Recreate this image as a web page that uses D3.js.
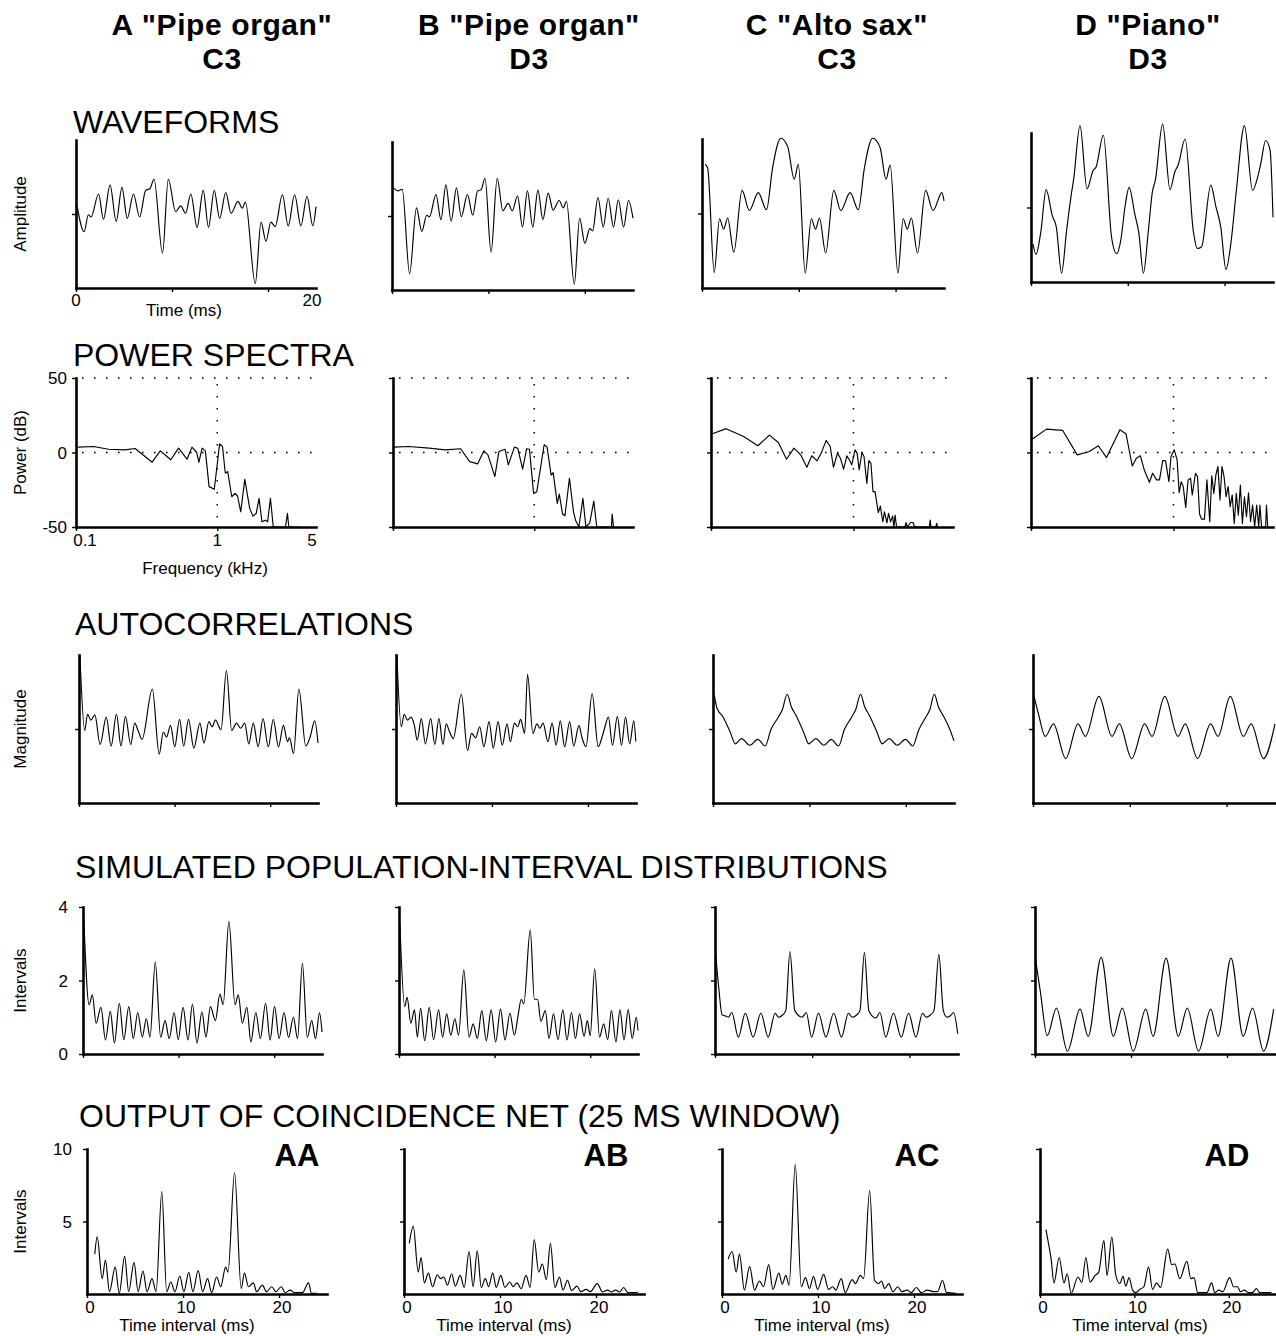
<!DOCTYPE html>
<html>
<head>
<meta charset="utf-8">
<script src="https://cdn.jsdelivr.net/npm/d3@7"></script>
<style>
  body { margin: 0; background: #fff; }
  svg { display: block; font-family: "Liberation Sans", Arial, Helvetica, sans-serif; }
</style>
</head>
<body>
<svg id="chart" width="1276" height="1336"></svg>
<script>
// ---------- labels ----------
const columnTitles = ['A "Pipe organ"', 'B "Pipe organ"', 'C "Alto sax"', 'D "Piano"'];
const columnNotes = ["C3", "D3", "C3", "D3"];
const sectionTitles = ["WAVEFORMS", "POWER SPECTRA", "AUTOCORRELATIONS",
  "SIMULATED POPULATION-INTERVAL DISTRIBUTIONS", "OUTPUT OF COINCIDENCE NET (25 MS WINDOW)"];
const pairLabels = ["AA", "AB", "AC", "AD"];

// ---------- tick values ----------
const waveXTicks = [0, 8, 16];
const waveXLabels = [0, 20];
const specXTicks = [0.1, 1];
const specXLabels = [0.1, 1, 5];
const specYTicks = [-50, 0, 50];
const lagTicks = [0, 10, 20];
const pidYTicks = [0, 2, 4];
const coinYTicks = [5, 10];

// ---------- waveforms: [time ms, normalised amplitude] ----------
const waveA = [[0.1,0.10],[0.68,-0.24],[1.03,-0.01],[1.26,-0.04],[1.88,0.27],[2.29,-0.07],[2.84,0.39],[3.35,-0.10],[3.83,0.36],[4.27,-0.06],[4.79,0.27],[5.30,-0.04],[5.81,0.32],[6.15,0.34],[6.50,0.47],[7.21,-0.53],[7.69,0.47],[8.31,0.03],[8.72,0.11],[9.13,0.01],[9.57,0.27],[10.09,-0.18],[10.60,0.32],[11.04,-0.18],[11.52,0.32],[11.97,-0.06],[12.48,0.29],[12.92,0.01],[13.50,0.17],[13.85,0.08],[14.12,0.16],[14.94,-0.94],[15.42,-0.11],[15.83,-0.37],[16.24,-0.11],[16.6,-0.17],[17.20,0.26],[17.68,-0.16],[18.22,0.26],[18.74,-0.16],[19.25,0.24],[19.73,-0.16],[20.0,0.10]];
const waveB = [[0.10,0.38],[0.51,0.34],[0.85,0.36],[1.46,-0.78],[2.03,0.11],[2.47,-0.21],[2.88,0.01],[3.11,-0.01],[3.65,0.29],[4.06,-0.05],[4.47,0.42],[4.91,-0.07],[5.35,0.38],[5.75,-0.01],[6.26,0.29],[6.70,0.01],[7.11,0.34],[7.38,0.35],[7.72,0.51],[8.22,-0.49],[8.73,0.51],[9.20,0.07],[9.64,0.17],[9.98,0.07],[10.42,0.27],[10.83,-0.15],[11.24,0.34],[11.68,-0.15],[12.11,0.35],[12.52,-0.05],[12.96,0.31],[13.37,0.08],[13.87,0.21],[14.21,0.11],[14.48,0.20],[15.13,-0.92],[15.57,-0.03],[16.01,-0.37],[16.41,-0.17],[16.65,-0.20],[17.09,0.25],[17.53,-0.15],[17.94,0.24],[18.38,-0.15],[18.78,0.22],[19.22,-0.15],[19.63,0.21],[20.0,-0.03]];
const waveC = [[0.27,0.66],[0.47,0.61],[1.01,-0.79],[1.45,-0.07],[1.79,-0.21],[2.12,-0.06],[2.63,-0.52],[3.31,0.31],[3.91,0.04],[4.65,0.28],[5.33,0.05],[5.83,0.61],[6.51,1.01],[7.08,0.90],[7.62,0.46],[7.96,0.66],[8.53,-0.80],[9.04,-0.07],[9.38,-0.21],[9.71,-0.06],[10.22,-0.53],[10.89,0.31],[11.47,0.04],[12.24,0.28],[12.92,0.05],[13.42,0.61],[14.10,1.01],[14.71,0.89],[15.21,0.46],[15.55,0.65],[16.19,-0.80],[16.63,-0.07],[16.96,-0.21],[17.30,-0.06],[17.81,-0.53],[18.48,0.31],[19.09,0.04],[19.83,0.28],[20.0,0.17]];
const waveD = [[0.17,-0.49],[0.41,-0.63],[0.81,-0.33],[1.25,0.24],[1.76,-0.11],[2.09,-0.26],[2.53,-0.88],[2.94,-0.31],[3.38,0.23],[3.51,0.36],[4.05,1.10],[4.63,0.25],[5.14,0.50],[5.37,0.54],[5.98,0.97],[6.66,-0.40],[7.09,-0.62],[7.43,-0.43],[7.77,0.01],[8.11,0.27],[8.58,-0.09],[8.92,-0.35],[9.29,-0.88],[9.70,-0.31],[10.03,0.21],[10.27,0.36],[10.88,1.12],[11.49,0.24],[11.89,0.48],[12.16,0.57],[12.74,0.92],[13.41,-0.31],[13.75,-0.55],[14.09,-0.53],[14.86,0.30],[15.27,0.02],[15.68,-0.26],[16.11,-0.83],[16.55,-0.44],[16.96,0.21],[17.64,1.10],[18.31,0.23],[18.72,0.40],[18.99,0.59],[19.39,0.90],[19.76,0.77],[20.0,-0.13]];

// ---------- power spectra: [frequency kHz, power dB] ----------
const specA = [[0.1034,3.6],[0.133,4.0],[0.170,2.2],[0.222,1.8],[0.262,2.7],[0.346,-6.5],[0.395,1.1],[0.469,-4.9],[0.532,2.9],[0.611,-4.5],[0.662,3.6],[0.716,0],[0.741,-6.7],[0.781,2.9],[0.824,1.1],[0.875,-22.9],[0.953,-24.7],[1.039,5.8],[1.089,4.0],[1.140,-13.9],[1.186,-12.8],[1.267,-29.7],[1.336,-27.4],[1.391,-29.2],[1.466,-39.8],[1.566,-18.0],[1.697,-37.5],[1.789,-42.7],[1.887,-40.9],[1.977,-30.8],[2.071,-46.5],[2.184,-45.4],[2.272,-46.5],[2.379,-30.8],[2.492,-50],[3.04,-50],[3.14,-40.9],[3.21,-50],[3.71,-50]];
const specB = [[0.102,3.6],[0.129,4.0],[0.180,2.9],[0.234,1.8],[0.301,2.5],[0.349,-6.1],[0.398,-7.6],[0.440,1.1],[0.470,-1.6],[0.526,-16.2],[0.562,0.7],[0.621,2.2],[0.655,-8.3],[0.724,3.6],[0.764,2.9],[0.827,-11.2],[0.883,2.5],[0.925,2.2],[0.989,-27.4],[1.042,-26.3],[1.175,5.2],[1.232,3.6],[1.316,-15.1],[1.361,-13.5],[1.455,-34.2],[1.504,-27.9],[1.586,-41.3],[1.649,-42.5],[1.774,-17.3],[1.896,-39.8],[1.960,-45.4],[2.07,-50],[2.21,-30.8],[2.32,-50],[2.47,-47.2],[2.64,-32.6],[2.77,-50],[3.52,-50],[3.56,-41.3],[3.64,-50]];
const specC = [[0.1013,12.4],[0.1277,16.0],[0.1694,10.8],[0.2134,4.5],[0.257,11.7],[0.297,6.7],[0.339,-4.5],[0.382,2.9],[0.427,-1.6],[0.471,-9.9],[0.510,-2.2],[0.556,-5.6],[0.594,-0.4],[0.643,8.1],[0.687,4.0],[0.724,-9.9],[0.773,-0.4],[0.810,-3.8],[0.853,-11.2],[0.899,-2.2],[0.942,-5.4],[0.973,-8.3],[1.026,1.8],[1.061,-0.4],[1.097,-11.7],[1.148,0],[1.186,-2.7],[1.242,-20.7],[1.284,-5.4],[1.327,-7.2],[1.372,-26.3],[1.418,-26.3],[1.495,-40.4],[1.545,-36.0],[1.607,-46.5],[1.651,-39.8],[1.718,-47.2],[1.763,-40.9],[1.823,-46.5],[1.884,-42.7],[1.923,-50],[1.96,-42],[2.01,-50],[2.30,-50],[2.34,-47],[2.39,-50],[2.52,-47],[2.62,-47],[2.69,-50],[3.41,-50],[3.46,-45.4],[3.50,-50],[3.79,-50],[3.84,-47.6],[3.89,-50]];
const specD = [[0.1006,8.5],[0.1285,15.7],[0.167,14.8],[0.211,-1.6],[0.257,0.7],[0.297,4.5],[0.339,-3.4],[0.421,15.3],[0.465,12.4],[0.514,-9.0],[0.549,-3.8],[0.586,-2.2],[0.626,-12.1],[0.678,-20.0],[0.714,-13.9],[0.762,-18.4],[0.798,-18.4],[0.841,-5.4],[0.881,-5.6],[0.929,-19.6],[0.961,-2.7],[1.013,1.8],[1.061,-4.9],[1.097,-27.0],[1.133,-19.6],[1.172,-22.9],[1.219,-36.9],[1.268,-18.4],[1.319,-17.3],[1.355,-28.5],[1.428,-13.9],[1.476,-16.2],[1.525,-41.3],[1.577,-44.7],[1.651,-44.7],[1.718,-18.4],[1.799,-46.5],[1.859,-15.7],[1.922,-27.4],[1.986,-15.1],[2.053,-9.4],[2.122,-31.9],[2.193,-9.4],[2.266,-16.2],[2.343,-29.7],[2.421,-22.9],[2.502,-36.4],[2.586,-28.5],[2.673,-47.6],[2.762,-27.4],[2.855,-42.0],[2.951,-21.8],[3.049,-47.6],[3.151,-29.7],[3.257,-43.1],[3.366,-27.0],[3.479,-46.5],[3.595,-35.3],[3.716,-50],[3.840,-35.3],[3.969,-50],[4.048,-35.3],[4.157,-50],[4.44,-50],[4.50,-35.3],[4.59,-50]];

// ---------- autocorrelations: [lag ms, normalised magnitude] ----------
const acfA = [[0.09,1.00],[0.60,-0.02],[0.89,0.20],[1.24,0.12],[1.66,0.19],[2.21,-0.21],[2.85,0.16],[3.36,-0.23],[3.92,0.20],[4.39,-0.23],[4.86,0.17],[5.41,-0.21],[5.83,0.08],[6.18,-0.02],[6.60,-0.14],[7.67,0.54],[8.39,-0.34],[8.82,-0.04],[9.16,-0.11],[9.58,0.05],[10.01,-0.24],[10.52,0.13],[10.95,-0.23],[11.46,0.13],[12.01,-0.26],[12.65,0.08],[13.07,-0.19],[13.59,0.10],[13.93,0.03],[14.27,0.12],[14.86,-0.01],[15.42,0.79],[15.97,-0.02],[16.48,0.08],[16.91,0.01],[17.33,0.08],[17.76,-0.20],[18.23,0.08],[18.74,-0.24],[19.25,0.14],[19.80,-0.24],[20.32,0.13],[20.87,-0.24],[21.38,0.05],[21.81,-0.17],[22.02,-0.12],[22.44,-0.33],[23.00,0.54],[23.72,-0.23],[24.15,-0.12],[24.66,0.11],[25.0,-0.19]];
const acfB = [[0.09,1.00],[0.55,0.03],[0.85,0.20],[1.19,0.12],[1.57,0.16],[1.91,0.05],[2.21,-0.15],[2.64,0.14],[3.06,-0.20],[3.62,0.14],[4.04,-0.21],[4.47,0.14],[4.89,-0.21],[5.23,0.07],[5.53,-0.02],[5.96,-0.13],[6.81,0.47],[7.45,-0.29],[7.87,-0.06],[8.30,-0.12],[8.72,0.03],[9.15,-0.24],[9.70,0.10],[10.13,-0.26],[10.64,0.10],[11.06,-0.22],[11.57,0.07],[11.91,-0.17],[12.34,0.08],[12.68,0.03],[12.98,0.13],[13.40,-0.06],[13.70,0.74],[14.26,-0.06],[14.68,0.07],[14.98,0.01],[15.32,0.08],[15.83,-0.17],[16.26,0.08],[16.68,-0.22],[17.11,0.11],[17.57,-0.24],[18.09,0.10],[18.51,-0.23],[19.06,0.05],[19.36,-0.11],[19.79,-0.24],[20.43,0.48],[21.06,-0.24],[21.62,-0.04],[22.13,0.16],[22.55,-0.22],[23.06,0.17],[23.49,-0.22],[23.91,0.16],[24.34,-0.20],[24.77,0.11],[24.98,-0.17]];
const acfC = [[0.13,0.46],[0.42,0.28],[1.06,0.16],[1.78,-0.04],[2.33,-0.20],[2.96,-0.13],[3.81,-0.22],[4.65,-0.14],[5.41,-0.23],[6.00,-0.01],[6.77,0.16],[7.19,0.26],[7.70,0.47],[8.12,0.30],[8.67,0.17],[9.39,-0.04],[9.94,-0.20],[10.66,-0.13],[11.50,-0.22],[12.26,-0.14],[13.02,-0.23],[13.62,-0.01],[14.38,0.16],[14.80,0.26],[15.31,0.47],[15.73,0.30],[16.28,0.17],[17.00,-0.04],[17.55,-0.20],[18.27,-0.13],[19.11,-0.22],[19.96,-0.14],[20.72,-0.23],[21.35,-0.01],[22.07,0.16],[22.49,0.26],[22.96,0.47],[23.38,0.30],[23.93,0.17],[24.52,0.01],[25.0,-0.16]];
const acfD = [[0.13,0.43],[0.55,0.21],[1.27,-0.10],[2.11,0.07],[3.38,-0.40],[4.65,0.07],[5.41,-0.10],[6.81,0.44],[8.16,-0.10],[8.92,0.07],[10.19,-0.40],[11.54,0.07],[12.30,-0.10],[13.62,0.44],[14.97,-0.10],[15.73,0.07],[17.00,-0.40],[18.35,0.07],[19.11,-0.10],[20.38,0.44],[21.73,-0.10],[22.54,0.07],[23.81,-0.40],[25.0,0.07]];

// ---------- population-interval distributions: [interval ms, intervals] ----------
const pidA = [[0.09,3.63],[0.64,1.34],[0.98,1.61],[1.37,0.84],[1.88,1.27],[2.35,0.38],[2.86,1.16],[3.29,0.30],[3.80,1.38],[4.27,0.39],[4.79,1.29],[5.26,0.42],[5.73,1.13],[6.20,0.46],[6.62,0.96],[7.01,0.46],[7.56,2.50],[8.12,0.46],[8.59,0.91],[9.02,0.42],[9.53,1.13],[9.96,0.39],[10.47,1.27],[10.98,0.38],[11.45,1.36],[11.92,0.30],[12.44,1.15],[12.86,0.46],[13.33,1.29],[13.85,0.91],[14.32,1.63],[14.66,1.34],[15.26,3.61],[15.90,1.34],[16.24,1.61],[16.67,0.84],[17.14,1.27],[17.56,0.33],[18.08,1.13],[18.55,0.42],[19.10,1.38],[19.57,0.38],[20.04,1.30],[20.51,0.42],[21.03,1.13],[21.50,0.45],[22.01,1.00],[22.44,0.42],[22.95,2.47],[23.46,0.45],[23.93,0.91],[24.32,0.42],[24.74,1.12],[25.0,0.60]];
const pidB = [[0.09,3.54],[0.60,1.29],[0.85,1.54],[1.24,0.84],[1.62,1.20],[1.92,0.46],[2.26,1.25],[2.69,0.36],[3.16,1.27],[3.62,0.39],[4.14,1.20],[4.56,0.46],[4.99,1.09],[5.42,0.51],[5.84,0.96],[6.23,0.51],[6.78,2.29],[7.33,0.46],[7.76,0.82],[8.19,0.42],[8.66,1.18],[9.13,0.36],[9.64,1.20],[10.11,0.33],[10.62,1.22],[11.09,0.38],[11.60,1.11],[12.07,0.51],[12.45,1.04],[12.79,1.49],[13.05,1.36],[13.73,3.37],[14.16,1.49],[14.50,1.49],[14.84,0.89],[15.31,1.18],[15.69,0.42],[16.16,1.09],[16.63,0.39],[17.14,1.20],[17.57,0.38],[18.04,1.13],[18.46,0.42],[18.89,1.09],[19.36,0.48],[19.70,0.91],[20.00,0.50],[20.47,2.32],[20.98,0.46],[21.41,0.82],[21.83,0.39],[22.22,1.18],[22.69,0.33],[23.11,1.20],[23.54,0.38],[23.97,1.21],[24.39,0.42],[24.82,1.00],[25.0,0.64]];
const pidC = [[0.08,2.70],[0.42,1.71],[0.72,1.07],[1.14,1.03],[1.39,1.00],[1.73,1.13],[2.40,0.46],[3.12,1.11],[3.92,0.46],[4.72,1.11],[5.47,0.46],[6.19,1.11],[6.53,1.00],[6.86,1.04],[7.28,1.18],[7.71,2.79],[8.21,1.18],[8.97,1.00],[9.39,1.13],[9.94,0.46],[10.65,1.11],[11.41,0.46],[12.21,1.11],[13.01,0.46],[13.73,1.11],[14.11,1.00],[14.48,1.04],[14.91,1.18],[15.37,2.76],[15.83,1.18],[16.55,0.98],[16.97,1.13],[17.56,0.46],[18.36,1.11],[19.16,0.46],[19.92,1.11],[20.67,0.46],[21.35,1.11],[21.73,1.00],[22.06,1.04],[22.53,1.18],[23.03,2.71],[23.49,1.18],[23.87,1.00],[24.21,1.04],[24.55,1.13],[24.97,0.55]];
const pidD = [[0.04,2.61],[0.55,1.71],[1.27,0.50],[2.24,1.25],[3.38,0.08],[4.69,1.22],[5.54,0.48],[6.89,2.63],[8.16,0.48],[9.09,1.25],[10.23,0.08],[11.54,1.22],[12.30,0.48],[13.66,2.61],[14.93,0.48],[15.86,1.25],[17.04,0.08],[18.31,1.22],[19.07,0.48],[20.42,2.61],[21.69,0.48],[22.66,1.25],[23.81,0.08],[24.86,1.22]];

// ---------- coincidence-net output: [interval ms, intervals] ----------
const coinAA = [[0.81,2.75],[1.06,3.94],[1.58,1.06],[1.92,2.34],[2.34,0.16],[2.94,1.85],[3.36,0.05],[3.92,2.59],[4.34,0.16],[4.90,2.18],[5.32,0.16],[5.83,1.58],[6.26,0.16],[6.77,1.06],[7.20,0.16],[7.79,7.07],[8.30,0.16],[8.73,0.83],[9.16,0.16],[9.67,1.24],[10.09,0.16],[10.60,1.49],[11.03,0.16],[11.58,1.62],[12.05,0.16],[12.56,1.06],[12.99,0.09],[13.50,1.17],[13.93,0.50],[14.44,1.85],[14.69,1.51],[15.37,8.38],[16.06,0.38],[16.40,1.44],[16.82,0.50],[17.33,0.77],[17.67,0.16],[18.27,0.61],[18.70,0.16],[19.25,0.50],[19.68,0.16],[20.23,0.50],[20.66,0.09],[21.17,0.27],[21.59,0.09],[22.44,0.09],[23.08,0.77],[23.38,0.05],[23.94,0.05]];
const coinAB = [[0.55,3.49],[0.97,4.66],[1.48,1.51],[1.78,2.52],[2.12,0.77],[2.54,1.44],[2.97,0.50],[3.47,1.33],[3.81,1.06],[4.15,1.17],[4.53,0.61],[4.96,1.40],[5.34,0.54],[5.85,1.28],[6.27,0.45],[6.78,2.93],[7.20,0.50],[7.63,2.97],[8.05,0.45],[8.47,1.06],[8.81,0.50],[9.24,1.44],[9.62,0.45],[10.08,1.28],[10.51,0.45],[11.02,0.83],[11.36,0.50],[11.78,0.77],[12.20,0.36],[12.71,1.28],[13.14,0.45],[13.56,3.76],[14.03,1.51],[14.41,2.07],[14.83,0.99],[15.25,3.49],[15.72,0.45],[16.19,1.17],[16.57,0.27],[17.03,0.95],[17.46,0.23],[18.01,0.54],[18.43,0.16],[18.98,0.32],[19.41,0.16],[20.13,0.72],[20.68,0.14],[21.19,0.27],[21.61,0.14],[22.03,0.27],[22.46,0.14],[22.88,0.45],[23.31,0.09],[24.36,0.09]];
const coinAC = [[0.64,2.41],[1.06,2.93],[1.48,1.51],[1.82,2.75],[2.33,0.27],[2.88,1.89],[3.39,0.27],[3.90,0.90],[4.32,0.50],[4.87,2.03],[5.30,0.32],[5.93,1.44],[6.27,0.68],[6.65,1.28],[6.99,0.61],[7.63,8.94],[8.26,0.50],[8.69,1.13],[9.11,0.38],[9.53,1.22],[9.96,0.32],[10.59,1.35],[11.10,0.32],[11.53,0.50],[11.86,0.27],[12.42,1.06],[12.84,0.09],[13.56,0.99],[13.90,0.72],[14.41,1.28],[14.75,1.06],[15.38,7.14],[15.89,0.95],[16.31,0.72],[16.61,0.90],[16.95,0.38],[17.37,0.72],[17.80,0.16],[18.31,0.50],[18.73,0.16],[19.28,0.27],[19.70,0.09],[20.25,0.45],[20.76,0.09],[21.40,0.27],[22.03,0.16],[22.46,0.16],[22.97,0.95],[23.39,0.09],[24.36,0.05]];
const coinAD = [[0.63,4.44],[0.93,3.38],[1.18,2.41],[1.48,0.77],[2.03,2.52],[2.54,0.77],[2.88,1.40],[3.30,0.05],[4.02,1.17],[4.44,0.79],[4.86,2.52],[5.29,0.83],[5.84,1.28],[6.22,1.51],[6.77,3.69],[7.10,1.28],[7.61,3.92],[8.03,1.28],[8.46,0.72],[8.79,1.22],[9.09,0.54],[9.43,1.13],[9.81,0.27],[10.15,0.09],[10.57,0.32],[11.00,0.50],[11.50,1.85],[11.92,0.32],[12.35,0.77],[12.77,0.45],[13.53,3.09],[13.95,2.03],[14.29,2.07],[14.80,1.06],[15.56,2.25],[15.98,1.06],[16.32,1.13],[16.70,0.09],[17.67,0.09],[18.18,0.77],[18.52,0.09],[18.94,0.27],[19.37,0.16],[20.08,1.13],[20.51,0.50],[20.93,0.50],[21.23,0.16],[21.65,0.27],[22.07,0.09],[22.50,0.09],[22.92,0.38],[23.26,0.09],[24.52,0.09]];

// ---------- page layout (pixels) ----------
const layout = {
  titleX: [222, 529, 837, 1148],
  waveBoxes: [
    { x0: 76, x1: 316, top: 140, bottom: 288 },
    { x0: 392, x1: 633, top: 142, bottom: 290 },
    { x0: 702, x1: 944, top: 139, bottom: 288 },
    { x0: 1031, x1: 1273, top: 133, bottom: 282 }
  ],
  spec: { x0: [76, 393, 711, 1031], x1: [316, 633, 953, 1273], top: 378, bottom: 527 },
  acf:  { x0: [79, 396, 713, 1033], x1: [318, 636, 954, 1275], top: 655, bottom: 803 },
  pid:  { x0: [83, 399, 715, 1035], x1: [322, 638, 958, 1275], top: 907, bottom: 1054 },
  coin: { x0: [87, 404, 722, 1040], x1: [327, 644, 962, 1276], top: 1149, bottom: 1294 },
  pairX: [297, 606, 917, 1227]
};

const svg = d3.select("#chart");
const BIG = 31, TITLE = 30, HEAD = 32, SMALL = 17;

function text(x, y, str, opts = {}) {
  return svg.append("text")
    .attr("x", x).attr("y", y)
    .attr("font-size", opts.size || SMALL)
    .attr("font-weight", opts.weight || "normal")
    .attr("text-anchor", opts.anchor || "middle")
    .attr("fill", "#000")
    .text(str);
}
function vtext(x, y, str) {
  svg.append("text")
    .attr("transform", `translate(${x},${y}) rotate(-90)`)
    .attr("font-size", SMALL).attr("text-anchor", "middle")
    .attr("dominant-baseline", "middle")
    .text(str);
}

function axes(x, y, xTicks, yTicks) {
  const gx = svg.append("g")
    .attr("transform", `translate(0,${y.range()[0]})`)
    .call(d3.axisBottom(x).tickValues(xTicks).tickSize(4).tickSizeOuter(0).tickFormat(""));
  const gy = svg.append("g")
    .attr("transform", `translate(${x.range()[0]},0)`)
    .call(d3.axisLeft(y).tickValues(yTicks).tickSize(4).tickSizeOuter(0).tickFormat(""));
  [gx, gy].forEach(g => {
    g.select(".domain").attr("stroke", "#000").attr("stroke-width", 2.6).attr("stroke-linecap", "square");
    g.selectAll(".tick line").attr("stroke", "#000").attr("stroke-width", 1.4);
  });
}

function curve(data, x, y, shape) {
  svg.append("path").datum(data)
    .attr("fill", "none").attr("stroke", "#000").attr("stroke-width", 1.15)
    .attr("stroke-linejoin", "round")
    .attr("d", d3.line().x(d => x(d[0])).y(d => y(d[1])).curve(shape));
}

// ---------- column titles (instrument on top, note below) ----------
columnTitles.forEach((t, i) => {
  text(layout.titleX[i], 34.5, t, { size: TITLE, weight: "bold" }).attr("letter-spacing", 0.6);
  text(layout.titleX[i], 68.5, columnNotes[i], { size: TITLE, weight: "bold" }).attr("letter-spacing", 0.6);
});

// ---------- section headings ----------
const headY = [133, 366, 635, 878, 1127];
const headX = [73, 73, 75, 75, 79];
sectionTitles.forEach((t, i) => text(headX[i], headY[i], t, { size: HEAD, anchor: "start" }));

// ---------- waveforms ----------
[waveA, waveB, waveC, waveD].forEach((data, i) => {
  const b = layout.waveBoxes[i];
  const x = d3.scaleLinear().domain([0, 20]).range([b.x0, b.x1]);
  const y = d3.scaleLinear().domain([-1, 1]).range([b.bottom, b.top]);
  axes(x, y, waveXTicks, [0]);
  curve(data, x, y, d3.curveMonotoneX);
  if (i === 0) {
    waveXLabels.forEach(v => text(x(v) - (v ? 4 : 0), b.bottom + 18, v));
    text((b.x0 + b.x1) / 2 - 12, b.bottom + 28, "Time (ms)");
    vtext(22, (b.top + b.bottom) / 2, "Amplitude");
  }
});

// ---------- power spectra ----------
[specA, specB, specC, specD].forEach((data, i) => {
  const L = layout.spec;
  const x = d3.scaleLog().domain([0.1, 5]).range([L.x0[i], L.x1[i]]);
  const y = d3.scaleLinear().domain([-50, 50]).range([L.bottom, L.top]);
  const dots = "1.6 10.4";
  [50, 0].forEach(v => svg.append("line")
    .attr("x1", x(0.1) + 6).attr("x2", x(5)).attr("y1", y(v)).attr("y2", y(v))
    .attr("stroke", "#000").attr("stroke-width", 1.5).attr("stroke-dasharray", dots));
  svg.append("line")
    .attr("x1", x(1)).attr("x2", x(1)).attr("y1", y(50) + 6).attr("y2", y(-50))
    .attr("stroke", "#000").attr("stroke-width", 1.5).attr("stroke-dasharray", dots);
  axes(x, y, specXTicks, specYTicks);
  curve(data, x, y, d3.curveLinear);
  if (i === 0) {
    specYTicks.forEach(v => text(x(0.1) - 9, y(v) + 6, v, { anchor: "end" }));
    specXLabels.forEach(v => text(x(v) + (v === 0.1 ? 9 : (v === 5 ? -4 : 0)), L.bottom + 19, v));
    text(205, L.bottom + 47, "Frequency (kHz)");
    vtext(22, (L.top + L.bottom) / 2, "Power (dB)");
  }
});

// ---------- autocorrelations ----------
[acfA, acfB, acfC, acfD].forEach((data, i) => {
  const L = layout.acf;
  const x = d3.scaleLinear().domain([0, 25]).range([L.x0[i], L.x1[i]]);
  const y = d3.scaleLinear().domain([-1, 1]).range([L.bottom, L.top]);
  axes(x, y, lagTicks, [0]);
  curve(data, x, y, d3.curveMonotoneX);
  if (i === 0) vtext(22, (L.top + L.bottom) / 2, "Magnitude");
});

// ---------- population-interval distributions ----------
[pidA, pidB, pidC, pidD].forEach((data, i) => {
  const L = layout.pid;
  const x = d3.scaleLinear().domain([0, 25]).range([L.x0[i], L.x1[i]]);
  const y = d3.scaleLinear().domain([0, 4]).range([L.bottom, L.top]);
  axes(x, y, lagTicks, pidYTicks);
  curve(data, x, y, d3.curveMonotoneX);
  if (i === 0) {
    pidYTicks.forEach(v => text(x(0) - 15, y(v) + 6, v, { anchor: "end" }));
    vtext(22, (L.top + L.bottom) / 2, "Intervals");
  }
});

// ---------- coincidence-net output ----------
[coinAA, coinAB, coinAC, coinAD].forEach((data, i) => {
  const L = layout.coin;
  const x = d3.scaleLinear().domain([0, 25]).range([L.x0[i], L.x1[i]]);
  const y = d3.scaleLinear().domain([0, 10]).range([L.bottom, L.top]);
  axes(x, y, lagTicks, coinYTicks);
  curve(data, x, y, d3.curveMonotoneX);
  lagTicks.forEach(v => text(x(v) + 3, L.bottom + 19, v));
  text(x(0) + 100, L.bottom + 37, "Time interval (ms)");
  text(layout.pairX[i], 1166, pairLabels[i], { size: BIG, weight: "bold" });
  if (i === 0) {
    coinYTicks.forEach(v => text(x(0) - 15, y(v) + 6, v, { anchor: "end" }));
    vtext(22, (L.top + L.bottom) / 2, "Intervals");
  }
});
</script>
</body>
</html>
